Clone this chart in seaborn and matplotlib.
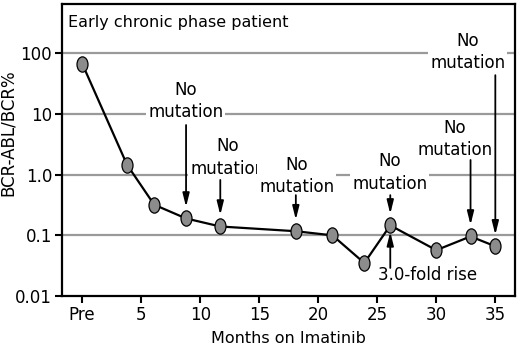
import matplotlib
matplotlib.use("Agg")
import matplotlib.pyplot as plt
import seaborn as sns
import pandas as pd
from matplotlib.path import Path
from matplotlib.transforms import Affine2D
from matplotlib.ticker import NullLocator

# data
months = [0, 3.8, 6.1, 8.8, 11.7, 18.1, 21.2, 23.9, 26.1, 30.0, 32.9, 35.0]
bcr_abl = [68, 1.46, 0.32, 0.19, 0.14, 0.117, 0.10, 0.035, 0.146, 0.057, 0.096, 0.066]

x_ticks = [0, 5, 10, 15, 20, 25, 30, 35]
x_tick_labels = ["Pre", "5", "10", "15", "20", "25", "30", "35"]
y_ticks = [0.01, 0.1, 1, 10, 100]
y_tick_labels = ["0.01", "0.1", "1.0", "10", "100"]

# annotations: (point index, label, text x, text y, arrow start y)
notes = [
    (3, "No\nmutation", 8.78, 16.4, 6.6),
    (4, "No\nmutation", 12.34, 1.92, 0.82),
    (5, "No\nmutation", 18.18, 0.95, 0.46),
    (8, "No\nmutation", 26.05, 1.09, 0.46),
    (10, "No\nmutation", 31.56, 3.85, 1.75),
    (11, "No\nmutation", 32.66, 107, 43.8),
]
rise_note = (8, "3.0-fold rise", 29.27, 0.0223, 0.029)

sns.set_style("ticks")
plt.rcParams["font.family"] = ["DejaVu Sans"]
plt.rcParams["text.color"] = "black"
plt.rcParams["axes.labelcolor"] = "black"
plt.rcParams["xtick.color"] = "black"
plt.rcParams["ytick.color"] = "black"

df = pd.DataFrame({"month": months, "ratio": bcr_abl})

fig = plt.figure(figsize=(5.2, 3.47), dpi=100)
ax = fig.add_axes([0.119, 0.147, 0.871, 0.841])

ellipse = Path.unit_circle().transformed(Affine2D().scale(0.72, 1.0))
sns.lineplot(data=df, x="month", y="ratio", ax=ax, color="black", lw=1.6,
             marker=ellipse, markersize=11, markerfacecolor="#8c8c8c",
             markeredgecolor="black", markeredgewidth=0.9, zorder=4)

ax.set_yscale("log")
ax.set_xlim(-1.72, 36.65)
ax.set_ylim(0.01, 650)
ax.set_xticks(x_ticks)
ax.set_xticklabels(x_tick_labels)
ax.set_yticks(y_ticks)
ax.set_yticklabels(y_tick_labels)
ax.yaxis.set_minor_locator(NullLocator())
ax.tick_params(axis="both", labelsize=12, length=5, width=1.5,
               direction="out", pad=2)

for y in y_ticks[1:]:
    ax.axhline(y, color="#9a9a9a", lw=1.6, zorder=1)

for spine in ax.spines.values():
    spine.set_linewidth(1.6)
    spine.set_color("black")

ax.set_xlabel("Months on Imatinib", fontsize=11.5, labelpad=5)
ax.set_ylabel("BCR-ABL/BCR%", fontsize=12)
ax.yaxis.set_label_coords(-0.1, 0.558)

ax.text(0.013, 0.938, "Early chronic phase patient", transform=ax.transAxes,
        fontsize=11.5, ha="left", va="center")

box = dict(boxstyle="square,pad=0.12", facecolor="white", edgecolor="none")
arrow = dict(arrowstyle="-|>,head_length=0.8,head_width=0.2", color="black",
             lw=1.3, shrinkA=0, shrinkB=0)

for idx, label, tx, ty, start in notes:
    ax.text(tx, ty, label, fontsize=12, ha="center", va="center",
            linespacing=1.3, bbox=box, zorder=3)
    ax.annotate("", xy=(months[idx], bcr_abl[idx] * 1.55),
                xytext=(months[idx], start), arrowprops=arrow, zorder=5)

idx, label, tx, ty, start = rise_note
ax.text(tx, ty, label, fontsize=12, ha="center", va="center", bbox=box, zorder=3)
ax.annotate("", xy=(months[idx], bcr_abl[idx] * 0.78),
            xytext=(months[idx], start), arrowprops=arrow, zorder=5)

fig.savefig("out.png", dpi=100)
